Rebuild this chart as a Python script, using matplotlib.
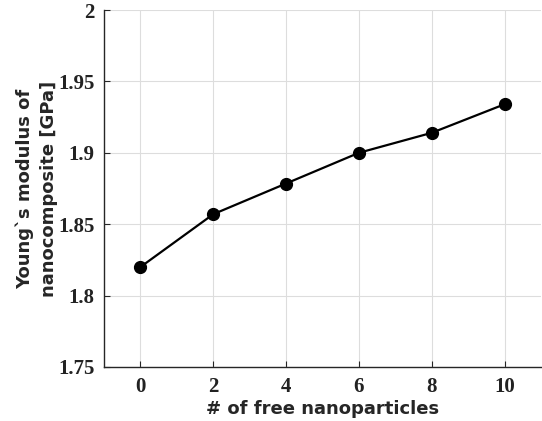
import matplotlib
matplotlib.use('Agg')
import matplotlib.pyplot as plt

free_particles = [0, 2, 4, 6, 8, 10]
youngs_modulus = [1.820, 1.857, 1.8785, 1.900, 1.914, 1.934]
x_ticks = [0, 2, 4, 6, 8, 10]
y_ticks = [1.75, 1.8, 1.85, 1.9, 1.95, 2.0]
y_tick_labels = ['1.75', '1.8', '1.85', '1.9', '1.95', '2']

plt.rcParams['font.family'] = ['DejaVu Sans']
plt.rcParams['font.weight'] = 'bold'

fig = plt.figure(figsize=(5.42, 4.21), dpi=100)
ax = fig.add_axes([104 / 542, 1 - 367 / 421, 437 / 542, 357 / 421])

ax.plot(free_particles, youngs_modulus, color='black', linewidth=1.6,
        marker='o', markersize=8.5, zorder=3)

ax.set_xlim(-1, 11)
ax.set_ylim(1.75, 2.0)
ax.set_xticks(x_ticks)
ax.set_yticks(y_ticks)
ax.set_yticklabels(y_tick_labels)

ax.grid(True, color='#dddddd', linewidth=0.8)
ax.set_axisbelow(True)
for side in ['left', 'bottom']:
    ax.spines[side].set_color('#262626')
    ax.spines[side].set_linewidth(1.0)
for side in ['top', 'right']:
    ax.spines[side].set_visible(False)

ax.tick_params(direction='in', length=4, width=0.8, color='#262626',
               labelsize=15, labelcolor='#222222', pad=7)
for lbl in ax.get_xticklabels() + ax.get_yticklabels():
    lbl.set_fontweight('bold')
    lbl.set_family(['Liberation Serif'])

ax.set_xlabel('# of free nanoparticles', fontsize=13, fontweight='bold',
              color='#262626', labelpad=2)
ax.set_ylabel('Young`s modulus of\nnanocomposite [GPa]', fontsize=13,
              fontweight='bold', color='#262626', linespacing=1.45)
ax.yaxis.set_label_coords(-0.105, 0.5)

fig.savefig('out.png', dpi=100)
